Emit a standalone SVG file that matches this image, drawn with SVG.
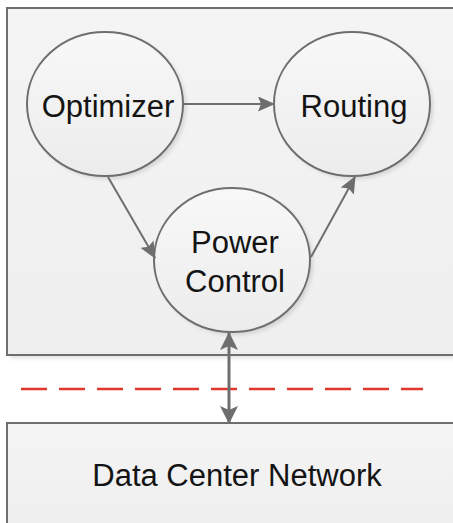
<svg xmlns="http://www.w3.org/2000/svg" width="453" height="523" viewBox="0 0 453 523">
  <style>
    .box { fill: url(#boxFill); stroke: #6e6e6e; stroke-width: 2; }
    .node { fill: url(#nodeFill); stroke: #6e6e6e; stroke-width: 2; }
    .shadow { fill: #000; opacity: 0.12; filter: url(#soft); }
    .label { font-family: "Liberation Sans", Arial, sans-serif; font-size: 31px; fill: #141414; text-anchor: middle; }
    .edge { stroke: #6e6e6e; stroke-width: 2; fill: none; }
    .link { stroke: #6e6e6e; stroke-width: 3; fill: none; }
    .divider { stroke: #e0352b; stroke-width: 2.5; stroke-dasharray: 26 12; fill: none; }
  </style>
  <defs>
    <linearGradient id="boxFill" x1="0" y1="0" x2="0" y2="1">
      <stop offset="0" stop-color="#f4f4f4"/>
      <stop offset="1" stop-color="#efefef"/>
    </linearGradient>
    <linearGradient id="nodeFill" x1="0" y1="0" x2="0" y2="1">
      <stop offset="0" stop-color="#f8f8f8"/>
      <stop offset="1" stop-color="#ececec"/>
    </linearGradient>
    <filter id="soft" x="-20%" y="-20%" width="140%" height="140%">
      <feGaussianBlur stdDeviation="2"/>
    </filter>
    <marker id="arrow" viewBox="0 0 17 15" markerWidth="17" markerHeight="15" refX="16" refY="7.5" orient="auto" markerUnits="userSpaceOnUse">
      <path d="M0,0 L17,7.5 L0,15 L3,7.5 Z" fill="#6e6e6e"/>
    </marker>
    <marker id="arrowBig" viewBox="0 0 18 18" markerWidth="18" markerHeight="18" refX="17" refY="9" orient="auto-start-reverse" markerUnits="userSpaceOnUse">
      <path d="M0,0 L18,9 L0,18 L4,9 Z" fill="#6e6e6e"/>
    </marker>
  </defs>

  <rect width="453" height="523" fill="#ffffff"/>

  <!-- controller container -->
  <g id="controller">
    <rect x="10" y="11" width="450" height="347" class="shadow"/>
    <rect x="7" y="8" width="450" height="347" class="box"/>
  </g>

  <!-- network container -->
  <g id="network">
    <rect x="10" y="426" width="450" height="110" class="shadow"/>
    <rect x="7" y="423" width="450" height="110" class="box"/>
    <text class="label" x="237" y="486" font-size="32">Data Center Network</text>
  </g>

  <g id="optimizer">
    <ellipse cx="108" cy="107" rx="78" ry="72" class="shadow"/>
    <ellipse cx="105" cy="104" rx="78" ry="72" class="node"/>
    <text class="label" x="108" y="117">Optimizer</text>
  </g>

  <g id="routing">
    <ellipse cx="355" cy="107" rx="78" ry="72" class="shadow"/>
    <ellipse cx="352" cy="104" rx="78" ry="72" class="node"/>
    <text class="label" x="354" y="117">Routing</text>
  </g>

  <g id="power-control">
    <ellipse cx="235" cy="263" rx="78" ry="72" class="shadow"/>
    <ellipse cx="232" cy="260" rx="78" ry="72" class="node"/>
    <text class="label" x="235" y="253">Power</text>
    <text class="label" x="235" y="292">Control</text>
  </g>

  <!-- boundary between control plane and network -->
  <line class="divider" x1="21" y1="389" x2="423" y2="389"/>

  <g id="connectors">
    <line class="edge" x1="183" y1="104" x2="274" y2="104" marker-end="url(#arrow)"/>
    <line class="edge" x1="108" y1="177" x2="155" y2="258" marker-end="url(#arrow)"/>
    <line class="edge" x1="311" y1="257" x2="355" y2="177" marker-end="url(#arrow)"/>
    <line class="link" x1="229" y1="333" x2="229" y2="423" marker-start="url(#arrowBig)" marker-end="url(#arrowBig)"/>
  </g>
</svg>
